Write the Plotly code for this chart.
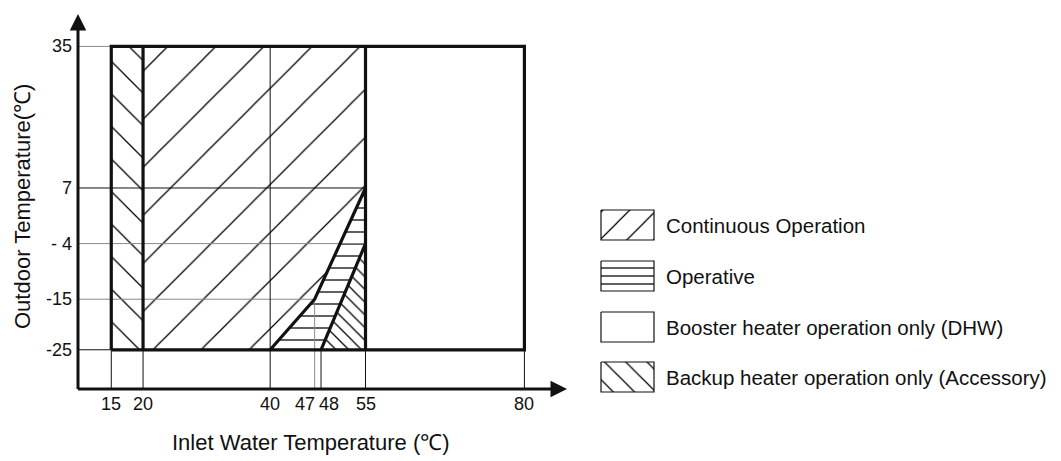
import plotly.graph_objects as go

# ---------------- data ----------------
x_ticks = [15, 20, 40, 47, 48, 55, 80]
x_tick_text = ["15", "20", "40", "47", "48", "55", "80"]
y_ticks = [-25, -15, -4, 7, 35]
y_tick_text = ["-25", "-15", "- 4", "7", "35"]

cont_x = [20, 55, 55, 47, 40, 20]
cont_y = [35, 35, 7, -15, -25, -25]
oper_x = [40, 47, 55, 55, 48]
oper_y = [-25, -15, 7, -4, -25]
backup_col_x = [15, 20, 20, 15]
backup_col_y = [-25, -25, 35, 35]
backup_tri_x = [48, 55, 55]
backup_tri_y = [-25, -4, -25]
booster_x = [55, 80, 80, 55]
booster_y = [-25, -25, 35, 35]
upper_limit_x = [40, 47, 55]
upper_limit_y = [-25, -15, 7]
lower_limit_x = [48, 55]
lower_limit_y = [-25, -4]

legend_labels = [
    "Continuous Operation",
    "Operative",
    "Booster heater operation only (DHW)",
    "Backup heater operation only (Accessory)",
]
x_title = "Inlet Water Temperature (℃)"
y_title = "Outdoor Temperature(℃)"

# ---------------- geometry ----------------
W, H = 1061, 461          # window size (target pixel space)
OFF = 8                   # default page body margin
Wf, Hf = W - OFF, H - OFF # figure size
PXX, XOFF = 6.356, 15.93  # pixels per degree (x), pixel of x=0
PXY, YOFF = 5.056, 223.38 # pixels per degree (y), pixel of y=0
def dx(p): return (p - XOFF) / PXX
def dy(p): return (YOFF - p) / PXY
L, R, T, B = 60, 575, 10, 400
x_range = [dx(L), dx(R)]
y_range = [dy(B), dy(T)]
x0, y0 = dx(78), dy(389)          # axis origin
x_tip, y_tip = dx(567), dy(14)    # arrow tips

FONT = "Liberation Sans, Arial, sans-serif"
BLACK = "#111111"
GRAY = "#8a8a8a"

fig = go.Figure()

def region(xs, ys, shape=None, size=10, ax="x", ay="y"):
    kw = {}
    if shape:
        kw["fillpattern"] = dict(shape=shape, size=size, solidity=1.25 / size,
                                 fgcolor="#000000", bgcolor="white", fgopacity=1)
    fig.add_trace(go.Scatter(x=list(xs) + [xs[0]], y=list(ys) + [ys[0]],
                             fill="toself", fillcolor="white", mode="lines",
                             line=dict(width=0), hoverinfo="skip",
                             showlegend=False, xaxis=ax, yaxis=ay, **kw))

def seg(xs, ys, width=1, color=BLACK, ax="x", ay="y"):
    fig.add_trace(go.Scatter(x=xs, y=ys, mode="lines",
                             line=dict(width=width, color=color),
                             hoverinfo="skip", showlegend=False,
                             xaxis=ax, yaxis=ay))

# hatched regions
region(booster_x, booster_y)
region(cont_x, cont_y, "/", 34)
region(oper_x, oper_y, "-", 12)
region(backup_col_x, backup_col_y, "\\", 23)
region(backup_tri_x, backup_tri_y, "\\", 9)

# thin guide lines
xmin, xmax = min(backup_col_x), max(booster_x)
ymin, ymax = min(booster_y), max(booster_y)
seg([x0, xmin], [y_ticks[4]] * 2, 1, GRAY)
seg([x0, max(cont_x)], [y_ticks[3]] * 2, 1, BLACK)
seg([x0, max(cont_x)], [y_ticks[2]] * 2, 1, GRAY)
seg([x0, upper_limit_x[1]], [y_ticks[1]] * 2, 1, GRAY)
seg([x0, xmin], [y_ticks[0]] * 2, 1, BLACK)
for xv in [x_ticks[0], x_ticks[1], x_ticks[4], x_ticks[5], x_ticks[6]]:
    seg([xv, xv], [ymin, y0], 1, BLACK)
seg([x_ticks[2]] * 2, [ymax, y0], 1, BLACK)
seg([x_ticks[3]] * 2, [upper_limit_y[1], y0], 1, GRAY)

# thick outlines
seg([xmin, xmax, xmax, xmin, xmin], [ymin, ymin, ymax, ymax, ymin], 3.2)
seg([min(cont_x)] * 2, [ymin, ymax], 3.2)
seg([max(cont_x)] * 2, [ymin, ymax], 3.2)
seg(upper_limit_x, upper_limit_y, 3.2)
seg(lower_limit_x, lower_limit_y, 3.2)

annotations = []
# axes with arrows
annotations.append(dict(x=x_tip, y=y0, ax=x0 - 0.25, ay=y0, xref="x", yref="y",
                        axref="x", ayref="y", text="", showarrow=True,
                        arrowhead=2, arrowsize=1.1, arrowwidth=3, arrowcolor=BLACK))
annotations.append(dict(x=x0, y=y_tip, ax=x0, ay=y0 - 0.3, xref="x", yref="y",
                        axref="x", ayref="y", text="", showarrow=True,
                        arrowhead=2, arrowsize=1.1, arrowwidth=3, arrowcolor=BLACK))

# tick labels
anchors = {"47": ("right", 2), "48": ("left", -4)}
for v, t in zip(x_ticks, x_tick_text):
    xa, sh = anchors.get(t, ("center", 0))
    annotations.append(dict(x=v, y=y0, xref="x", yref="y", text=t, showarrow=False,
                            xanchor=xa, yanchor="top", xshift=sh, yshift=-3,
                            font=dict(family=FONT, size=18, color=BLACK)))
for v, t in zip(y_ticks, y_tick_text):
    annotations.append(dict(x=x0, y=v, xref="x", yref="y", text=t, showarrow=False,
                            xanchor="right", yanchor="middle", xshift=-4,
                            font=dict(family=FONT, size=18, color=BLACK)))

# axis titles
annotations.append(dict(x=(311 - OFF) / Wf, y=1 - (442 - OFF) / Hf, xref="paper", yref="paper",
                        text=x_title, showarrow=False, xanchor="center", yanchor="middle",
                        font=dict(family=FONT, size=22, color=BLACK)))
annotations.append(dict(x=(22 - OFF) / Wf, y=1 - (207 - OFF) / Hf, xref="paper", yref="paper",
                        text=y_title, showarrow=False, textangle=-90,
                        xanchor="center", yanchor="middle",
                        font=dict(family=FONT, size=22, color=BLACK)))

# legend (drawn on a pixel-unit overlay axis)
sw_l, sw_r, sw_h = 601, 654, 30
centers = [225, 276, 327, 377]
patterns = [("/", 19), ("-", 8), (None, 0), ("\\", 15)]
for c, (shp, sz), lab in zip(centers, patterns, legend_labels):
    bx = [sw_l, sw_r, sw_r, sw_l]
    by = [c - sw_h / 2, c - sw_h / 2, c + sw_h / 2, c + sw_h / 2]
    region(bx, by, shp, sz if sz else 10, ax="x2", ay="y2")
    seg(bx + [bx[0]], by + [by[0]], 1.2, ax="x2", ay="y2")
    annotations.append(dict(x=664, y=c, xref="x2", yref="y2", text=lab, showarrow=False,
                            xanchor="left", yanchor="middle",
                            font=dict(family=FONT, size=20.5, color=BLACK)))

fig.update_layout(
    width=Wf, height=Hf,
    margin=dict(l=0, r=0, t=0, b=0),
    paper_bgcolor="white", plot_bgcolor="white",
    showlegend=False,
    xaxis=dict(domain=[(L - OFF) / Wf, (R - OFF) / Wf], range=x_range,
               visible=False, fixedrange=True),
    yaxis=dict(domain=[1 - (B - OFF) / Hf, 1 - (T - OFF) / Hf], range=y_range,
               visible=False, fixedrange=True),
    xaxis2=dict(domain=[(590 - OFF) / Wf, 1], range=[590, W], visible=False, anchor="y2"),
    yaxis2=dict(domain=[0, 1], range=[H, OFF], visible=False, anchor="x2"),
    annotations=annotations,
)

fig.write_html("out.html")
